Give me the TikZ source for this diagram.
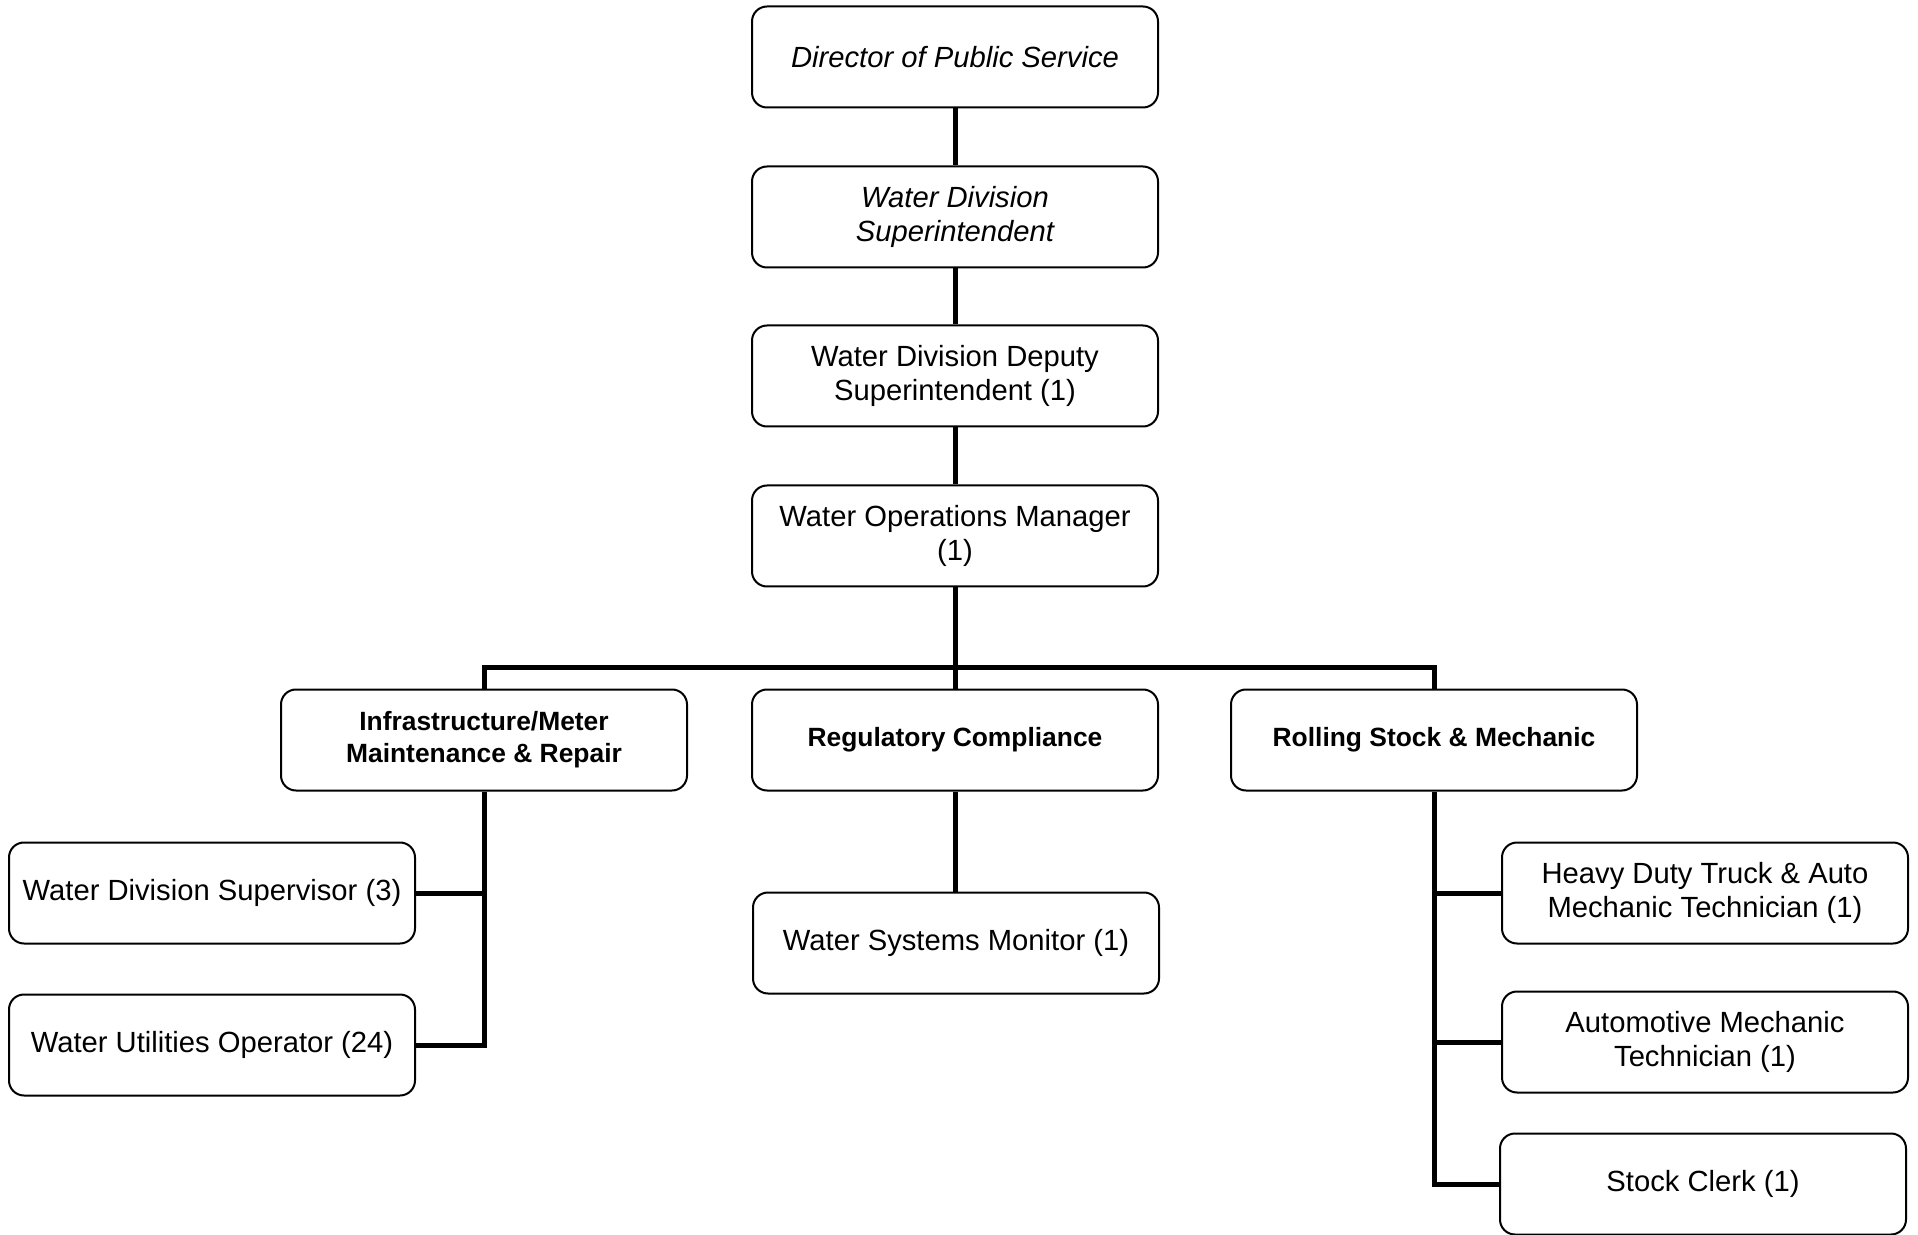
\documentclass[tikz,border=0pt]{standalone}
\usepackage{fontspec}
\setmainfont{Liberation Sans}
\usetikzlibrary{positioning,calc}
\tikzstyle{every node}=[font=\fontsize{14.6}{16.8}\selectfont, align=center]
\tikzstyle{box} = [draw, line width=1pt, rounded corners=7.5pt, minimum width=203pt, minimum height=50.5pt, inner sep=0pt]
\tikzstyle{head} = [box, font=\fontsize{14.6}{17}\selectfont\itshape]
\tikzstyle{unit} = [box, font=\fontsize{13.2}{16}\selectfont\bfseries]
\tikzstyle{link} = [draw, line width=2.5pt]

\begin{document}
\begin{tikzpicture}[x=0.5pt,y=-0.5pt]
    \useasboundingbox (0,0) rectangle (1918,1235);

    % chain of command
    \node[head] (director) at (955,57) {Director of Public Service};
    \node[head] (super) at (955,217) {Water Division\\Superintendent};
    \node[box] (deputy) at (955,376) {Water Division Deputy\\Superintendent (1)};
    \node[box] (opsman) at (955,536) {Water Operations Manager\\(1)};
    \coordinate (bus) at (955,667);

    % sections
    \node[unit] (infra) at (484,740) {Infrastructure/Meter\\Maintenance \& Repair};
    \node[unit] (regul) at (955,740) {Regulatory Compliance};
    \node[unit] (rolling) at (1434,740) {Rolling Stock \& Mechanic};

    % staff
    \node[box] (supervisor) at (212,893) {Water Division Supervisor (3)};
    \node[box] (operator) at (212,1045) {Water Utilities Operator (24)};
    \node[box] (monitor) at (956,943) {Water Systems Monitor (1)};
    \node[box] (heavy) at (1705,893) {Heavy Duty Truck \& Auto\\Mechanic Technician (1)};
    \node[box] (automech) at (1705,1042) {Automotive Mechanic\\Technician (1)};
    \node[box] (clerk) at (1703,1184) {Stock Clerk (1)};

    \draw[link] (director) -- (super);
    \draw[link] (super) -- (deputy);
    \draw[link] (deputy) -- (opsman);
    \draw[link] (opsman) -- (regul);
    \draw[link] (infra.north) |- (bus) -| (rolling.north);

    \draw[link] (regul.south) -- (regul.south |- monitor.north);

    \draw[link] (infra.south) |- (operator.east);
    \draw[link] (supervisor.east) -- (supervisor.east -| infra.south);

    \draw[link] (rolling.south) |- (clerk.west);
    \draw[link] (heavy.west) -- (heavy.west -| rolling.south);
    \draw[link] (automech.west) -- (automech.west -| rolling.south);

\end{tikzpicture}
\end{document}
